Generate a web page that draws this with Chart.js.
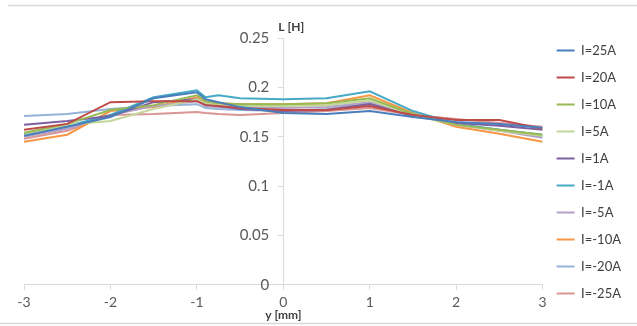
<!DOCTYPE html>
<html>
<head>
<meta charset="utf-8">
<script src="https://cdn.jsdelivr.net/npm/chart.js@4.4.1/dist/chart.umd.min.js"></script>
<style>
    html, body { margin: 0; padding: 0; background: #fff; }
    #wrap { width: 637px; height: 326px; }
</style>
</head>
<body>
<div id="wrap"><canvas id="myChart"></canvas></div>
<script>
// positions y [mm]
const positions = [-3, -2.5, -2, -1.5, -1, -0.9, -0.75, -0.5, 0, 0.5, 1, 1.5, 2, 2.5, 3];

// L [H] for each current
const i25 = [0.151, 0.160, 0.170, 0.189, 0.195, 0.188, 0.185, 0.180, 0.174, 0.173, 0.176, 0.170, 0.165, 0.163, 0.159];
const i20 = [0.157, 0.163, 0.185, 0.186, 0.186, 0.182, 0.181, 0.179, 0.177, 0.177, 0.181, 0.172, 0.167, 0.167, 0.158];
const i10 = [0.154, 0.163, 0.177, 0.182, 0.192, 0.186, 0.184, 0.183, 0.183, 0.184, 0.189, 0.173, 0.162, 0.157, 0.152];
const i5 = [0.152, 0.162, 0.166, 0.178, 0.188, 0.184, 0.182, 0.181, 0.181, 0.182, 0.187, 0.172, 0.162, 0.156, 0.151];
const i1 = [0.162, 0.166, 0.171, 0.185, 0.188, 0.183, 0.181, 0.178, 0.176, 0.177, 0.183, 0.171, 0.164, 0.161, 0.157];
const im1 = [0.153, 0.161, 0.172, 0.190, 0.197, 0.190, 0.192, 0.189, 0.188, 0.189, 0.196, 0.176, 0.163, 0.157, 0.152];
const im5 = [0.150, 0.158, 0.172, 0.181, 0.186, 0.181, 0.180, 0.179, 0.179, 0.180, 0.185, 0.173, 0.162, 0.156, 0.149];
const im10 = [0.145, 0.152, 0.176, 0.180, 0.190, 0.185, 0.184, 0.183, 0.183, 0.184, 0.192, 0.174, 0.160, 0.153, 0.145];
const im20 = [0.171, 0.173, 0.178, 0.181, 0.183, 0.179, 0.178, 0.177, 0.176, 0.178, 0.184, 0.173, 0.163, 0.157, 0.150];
const im25 = [0.148, 0.156, 0.172, 0.173, 0.175, 0.174, 0.173, 0.172, 0.174, 0.176, 0.179, 0.172, 0.168, 0.164, 0.160];

const seriesNames = ['I=25A', 'I=20A', 'I=10A', 'I=5A', 'I=1A', 'I=-1A', 'I=-5A', 'I=-10A', 'I=-20A', 'I=-25A'];
const seriesValues = [i25, i20, i10, i5, i1, im1, im5, im10, im20, im25];
const seriesColors = ['#4a7ebb', '#be4b48', '#98b954', '#c4d79b', '#7d60a0', '#46aac5', '#b3a2c7', '#f79646', '#95b3d7', '#d99694'];

const yTicks = [0, 0.05, 0.1, 0.15, 0.2, 0.25];
const xTicks = [-3, -2, -1, 0, 1, 2, 3];

const datasets = seriesNames.map((name, i) => ({
    label: name,
    data: positions.map((p, j) => ({ x: p, y: seriesValues[i][j] })),
    borderColor: seriesColors[i],
    backgroundColor: seriesColors[i],
    borderWidth: 2,
    pointRadius: 0,
    tension: 0,
}));

// y labels away from the axis, title above y axis, faint page lines
const extras = {
    id: 'extras',
    afterLayout(chart) {
        // lift the legend column a little
        chart.legend.top -= 8;
        chart.legend.bottom -= 8;
    },
    beforeDraw(chart) {
        const { ctx, width } = chart;
        ctx.save();
        ctx.strokeStyle = '#d9d9d9';
        ctx.lineWidth = 1.5;
        ctx.beginPath();
        ctx.moveTo(8, 5.5);
        ctx.lineTo(width, 5.5);
        ctx.moveTo(0, 323.5);
        ctx.lineTo(width, 323.5);
        ctx.stroke();
        ctx.restore();
    },
    afterDraw(chart) {
        const { ctx, scales: { x, y } } = chart;
        const x0 = x.getPixelForValue(0);
        ctx.save();
        ctx.font = '15px Lato';
        ctx.fillStyle = '#595959';
        ctx.textAlign = 'right';
        ctx.textBaseline = 'middle';
        yTicks.forEach(v => {
            ctx.fillText(String(v), x0 - 14, y.getPixelForValue(v));
        });
        ctx.font = 'bold 12px Lato';
        ctx.fillStyle = '#404040';
        ctx.textAlign = 'left';
        ctx.fillText('L [H]', x0 - 5, y.top - 11);
        ctx.restore();
    }
};

new Chart(document.querySelector('#myChart'), {
    type: 'line',
    data: { datasets },
    plugins: [extras],
    options: {
        responsive: true,
        maintainAspectRatio: false,
        animation: false,
        layout: { padding: { top: 38, left: 24, right: 6, bottom: 4 } },
        scales: {
            x: {
                type: 'linear',
                min: -3,
                max: 3,
                afterBuildTicks: (axis) => { axis.ticks = xTicks.map(v => ({ value: v })); },
                grid: { display: true, drawOnChartArea: false, drawTicks: true, tickLength: 5, color: '#d9d9d9' },
                border: { display: true, color: '#d9d9d9' },
                ticks: { color: '#595959', font: { family: 'Lato', size: 14 }, padding: 4 },
                title: {
                    display: true,
                    text: 'y [mm]',
                    color: '#404040',
                    font: { family: 'Lato', size: 12, weight: 'bold' },
                    padding: { top: -7, bottom: 0 },
                },
            },
            y: {
                type: 'linear',
                position: { x: 0 },
                min: 0,
                max: 0.25,
                afterBuildTicks: (axis) => { axis.ticks = yTicks.map(v => ({ value: v })); },
                grid: { display: true, drawOnChartArea: false, drawTicks: true, tickLength: 5, color: '#d9d9d9' },
                border: { display: true, color: '#d9d9d9' },
                ticks: { display: false },
            },
        },
        plugins: {
            legend: {
                position: 'right',
                labels: {
                    usePointStyle: true,
                    pointStyle: 'line',
                    pointStyleWidth: 18,
                    color: '#404040',
                    font: { family: 'Lato', size: 13 },
                    padding: 14,
                },
            },
            tooltip: { enabled: false },
        },
    },
});
</script>
</body>
</html>
